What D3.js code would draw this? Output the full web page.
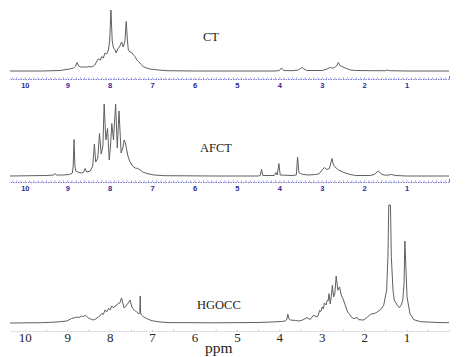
<!DOCTYPE html>
<html>
<head>
<meta charset="utf-8">
<script src="https://cdn.jsdelivr.net/npm/d3@7"></script>
<style>
  html, body { margin: 0; padding: 0; background: #fff; }
  svg { display: block; }
</style>
</head>
<body>
<svg id="chart" width="474" height="357"></svg>
<script>
// ---------- DATA (ppm, relative intensity) ----------
const sampleNames = ["CT", "AFCT", "HGOCC"];
const tickLabels = [10, 9, 8, 7, 6, 5, 4, 3, 2, 1];
const axisTitle = "ppm";

const ctSpectrum = [
  [10.35,0],[9.6,0],[9.17,0.5],[8.95,2],[8.85,3],[8.80,5],[8.77,8.5],[8.73,5],[8.68,4],[8.6,4],[8.53,4],
  [8.49,4.5],[8.44,4],[8.38,5],[8.35,6],[8.30,10],[8.27,12],[8.22,11],[8.19,14.5],[8.15,13],[8.11,18],
  [8.07,17],[8.03,21],[8.00,30],[7.97,61],[7.94,30],[7.91,23],[7.87,21],[7.85,18],[7.81,22],[7.77,24],
  [7.72,29],[7.68,24],[7.64,30],[7.61,49.5],[7.58,30],[7.56,21],[7.52,19],[7.48,18.5],[7.44,16],[7.40,14.5],
  [7.36,11],[7.32,9.5],[7.27,7],[7.21,4.5],[7.13,3],[7.05,2],[6.85,1],[6.65,0.3],[6.0,0],[4.1,0],
  [4.00,0.5],[3.95,3],[3.90,0.5],[3.7,0.3],[3.55,1],[3.50,2.5],[3.46,3.5],[3.42,2],[3.35,0.5],[3.0,0.5],
  [2.90,1.5],[2.83,3],[2.80,3.5],[2.75,2.8],[2.70,3.5],[2.65,5],[2.61,8.5],[2.57,5.5],[2.50,4],[2.42,2.5],
  [2.32,1],[2.2,0.5],[1.8,0.3],[1.50,0.3],[1.45,1],[1.40,0.3],[1.0,0],[0,0]
];

const afctSpectrum = [
  [10.35,0],[9.5,0.5],[9.32,1],[9.29,2.5],[9.25,1],[9.1,1],[8.95,1.5],[8.88,3],[8.86,10],[8.84,36.5],[8.82,10],
  [8.80,5],[8.75,4],[8.68,3],[8.62,3.5],[8.58,7.5],[8.54,4],[8.46,5],[8.40,10],[8.36,32],[8.33,14],
  [8.28,18],[8.24,42.5],[8.20,22],[8.16,30],[8.13,72],[8.09,36],[8.05,47.5],[8.01,16],[7.98,30],[7.95,52.5],
  [7.91,36],[7.86,72],[7.82,28],[7.78,65],[7.73,23],[7.69,28],[7.66,36],[7.63,33],[7.57,20],[7.52,14],
  [7.46,10],[7.40,8],[7.34,7.5],[7.28,6],[7.22,4],[7.12,2.5],[6.95,1],[6.7,0.3],[5.5,0],[4.5,0],
  [4.45,0.5],[4.42,6.7],[4.39,0.5],[4.12,0.5],[4.08,3.5],[4.05,1],[4.01,12.5],[3.98,1],[3.7,0.5],[3.6,1],
  [3.57,19],[3.54,3.5],[3.50,2.5],[3.44,1.5],[3.3,1],[3.15,1.5],[3.07,2],[2.99,6],[2.94,8.5],[2.88,6.5],
  [2.82,7.5],[2.76,17.5],[2.72,10.5],[2.66,8],[2.60,6],[2.48,3.5],[2.33,1.5],[2.2,0.5],[1.85,0.5],[1.76,1.5],
  [1.67,5],[1.58,1.5],[1.48,0.7],[1.36,1.5],[1.25,0.5],[1.0,0],[0,0]
];

const hgoccSpectrum = [
  [10.35,0],[9.6,0.3],[9.24,1],[9.01,2],[8.90,4.5],[8.84,5],[8.78,6],[8.72,5.5],[8.66,7],[8.62,6.5],
  [8.58,7.5],[8.54,6.5],[8.50,5],[8.45,4],[8.39,3],[8.33,4],[8.27,6],[8.23,7],[8.19,9.5],[8.15,8.5],
  [8.11,13],[8.07,11],[8.03,14.5],[7.99,13],[7.95,17],[7.91,15],[7.87,17],[7.83,18],[7.80,19.5],[7.76,20],
  [7.72,25],[7.69,20],[7.66,15],[7.63,16],[7.60,18],[7.56,20],[7.52,23],[7.49,18],[7.46,14.5],[7.41,12.5],
  [7.36,11],[7.31,9],[7.29,10],[7.28,27],[7.27,10],[7.25,8],[7.20,6],[7.13,4.5],[7.05,3],[6.97,2],
  [6.81,1],[6.6,0.4],[5.5,0.2],[4.5,0.5],[4.17,1],[3.95,1.5],[3.86,2],[3.82,4],[3.80,8.7],[3.77,4],
  [3.74,3],[3.62,2.5],[3.54,2],[3.45,3],[3.35,5.3],[3.27,3.5],[3.20,7.7],[3.11,6],[3.08,8],[3.05,12.7],
  [3.02,11.5],[2.99,16],[2.96,14],[2.94,20],[2.90,18],[2.87,22.7],[2.85,22],[2.83,29.3],[2.80,19],[2.78,25],
  [2.75,37.7],[2.72,26],[2.69,30],[2.66,46.7],[2.62,32.7],[2.58,36],[2.54,27.7],[2.50,24.3],[2.44,17],[2.40,12],
  [2.36,9.3],[2.28,5],[2.21,4.3],[2.18,6],[2.13,3.3],[2.01,3],[1.92,6],[1.85,8.7],[1.73,10],[1.62,13],
  [1.54,17.7],[1.47,32.7],[1.44,66],[1.42,117.7],[1.38,117.7],[1.36,66],[1.32,32.7],[1.29,22.7],[1.22,17.7],[1.17,15.3],
  [1.13,17.7],[1.09,22.7],[1.06,39.3],[1.04,81.7],[1.01,49.3],[0.99,26],[0.92,9.3],[0.83,3.3],[0.67,1.3],[0.28,0.5],
  [0,0.3]
];

// ---------- LAYOUT ----------
const svg = d3.select("#chart");
const x = d3.scaleLinear().domain([10.35, 0]).range([10, 449]);

const panels = [
  { name: sampleNames[0], data: ctSpectrum,    base: 71,  top: 10,  axisY: 79,  style: "blue",  lx: 203, ly: 40.5 },
  { name: sampleNames[1], data: afctSpectrum,  base: 176, top: 104, axisY: 182, style: "blue",  lx: 200, ly: 151.5 },
  { name: sampleNames[2], data: hgoccSpectrum, base: 323, top: 205, axisY: 331, style: "plain", lx: 197, ly: 308.5 }
];

panels.forEach(p => {
  const y = d3.scaleLinear()
    .domain([0, d3.max(p.data, d => d[1])])
    .range([p.base, p.top]);

  const line = d3.line().x(d => x(d[0])).y(d => y(d[1]));

  svg.append("path")
    .datum(p.data)
    .attr("d", line)
    .attr("fill", "none")
    .attr("stroke", "#5f5f5f")
    .attr("stroke-width", 1)
    .attr("stroke-linejoin", "round");

  const g = svg.append("g").attr("transform", `translate(0,${p.axisY})`);
  if (p.style === "blue") {
    const minor = d3.axisBottom(x)
      .tickValues(d3.range(0.1, 10.35, 0.1))
      .tickSize(-1.5).tickSizeOuter(0).tickFormat("");
    const gm = g.append("g").call(minor);
    gm.select(".domain").attr("stroke", "#7a7ad8").attr("stroke-width", 1)
      .attr("stroke-dasharray", "1.5,1");
    gm.selectAll(".tick line").attr("stroke", "#a0a0e6");

    const endTick = d3.axisBottom(x).tickValues([0]).tickSize(-3).tickFormat("");
    const ge = g.append("g").call(endTick);
    ge.select(".domain").remove();
    ge.selectAll(".tick line").attr("stroke", "#7a7ad8");

    const major = d3.axisBottom(x)
      .tickValues(tickLabels).tickSize(0).tickPadding(4)
      .tickFormat(d3.format("d"));
    const ga = g.append("g").call(major);
    ga.select(".domain").remove();
    ga.selectAll("text")
      .attr("font-family", "Liberation Sans, Arial, sans-serif")
      .attr("font-weight", "bold")
      .attr("font-size", 7.5)
      .attr("fill", "#2a2a9c");
  } else {
    const minor = d3.axisBottom(x)
      .tickValues(d3.range(0, 10.35, 0.5))
      .tickSize(-1.5).tickSizeOuter(0).tickFormat("");
    const gm = g.append("g").call(minor);
    gm.select(".domain").attr("stroke", "#d0d0d0").attr("stroke-width", 1)
      .attr("stroke-dasharray", "2,1");
    gm.selectAll(".tick line").attr("stroke", "#cccccc");

    const major = d3.axisBottom(x)
      .tickValues(tickLabels).tickSize(0).tickPadding(2)
      .tickFormat(d3.format("d"));
    const ga = g.append("g").call(major);
    ga.select(".domain").remove();
    ga.selectAll("text")
      .attr("font-family", "Liberation Serif, Times New Roman, serif")
      .attr("font-size", 13)
      .attr("fill", "#222");
  }

  svg.append("text")
    .attr("x", p.lx).attr("y", p.ly)
    .attr("font-family", "Liberation Serif, Times New Roman, serif")
    .attr("font-size", 12.5)
    .attr("fill", "#222")
    .text(p.name);
});

svg.append("text")
  .attr("x", 205).attr("y", 352.5)
  .attr("font-family", "Liberation Serif, Times New Roman, serif")
  .attr("font-size", 15.5)
  .attr("fill", "#222")
  .text(axisTitle);
</script>
</body>
</html>
